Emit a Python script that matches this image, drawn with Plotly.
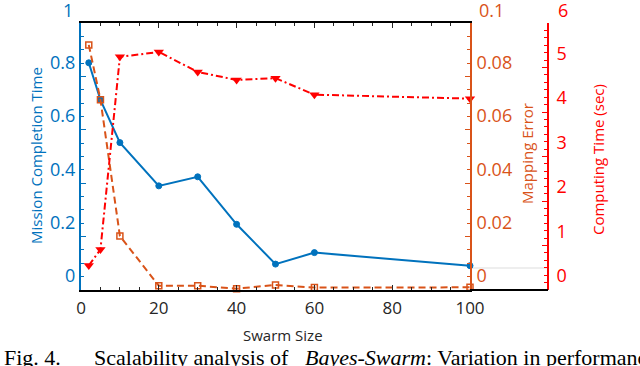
import plotly.graph_objects as go

swarm_size = [2, 5, 10, 20, 30, 40, 50, 60, 100]
mission_time = [0.851, 0.712, 0.552, 0.390, 0.424, 0.246, 0.097, 0.140, 0.091]
mapping_error = [0.0918, 0.0713, 0.0202, 0.0016, 0.0016, 0.0005, 0.0019, 0.0009, 0.0010]
computing_time = [0.55, 0.91, 5.24, 5.35, 4.90, 4.72, 4.76, 4.39, 4.30]

x_ticks = [0, 20, 40, 60, 80, 100]
y1_ticks = [0, 0.2, 0.4, 0.6, 0.8]
y1_labels = ["0", "0.2", "0.4", "0.6", "0.8"]
y1_top = "1"
y2_ticks = [0, 0.02, 0.04, 0.06, 0.08]
y2_labels = ["0", "0.02", "0.04", "0.06", "0.08"]
y2_top = "0.1"
y3_ticks = [0, 1, 2, 3, 4, 5]
y3_labels = ["0", "1", "2", "3", "4", "5"]
y3_top = "6"

BLUE = "#0072BD"
ORANGE = "#D95319"
RED = "#FF0000"
FONT = "Open Sans"

W, H = 640, 366
L, R, T, B = 81, 92, 23, 76
xend = (470 - L) / (W - L - R)
pw, ph = W - L - R, H - T - B


def px(x):
    return (x - L) / pw


def py(y):
    return (H - B - y) / ph


fig = go.Figure()
fig.add_trace(go.Scatter(
    x=swarm_size, y=mission_time, mode="lines+markers", yaxis="y", xaxis="x",
    line=dict(color=BLUE, width=2),
    marker=dict(symbol="circle", size=6, color=BLUE, line=dict(color=BLUE, width=1)),
    cliponaxis=False, showlegend=False))
fig.add_trace(go.Scatter(
    x=swarm_size, y=mapping_error, mode="lines+markers", yaxis="y2", xaxis="x",
    line=dict(color=ORANGE, width=2, dash="7px,4px"),
    marker=dict(symbol="square-open", size=6, line=dict(color=ORANGE, width=1.5)),
    cliponaxis=False, showlegend=False))
fig.add_trace(go.Scatter(
    x=swarm_size, y=computing_time, mode="lines+markers", yaxis="y3", xaxis="x",
    line=dict(color=RED, width=2, dash="7px,3px,2px,3px"),
    marker=dict(symbol="triangle-down", size=9, color=RED),
    cliponaxis=False, showlegend=False))

ann_common = dict(xref="paper", yref="paper", showarrow=False, xanchor="center", yanchor="middle")
serif = dict(size=22, color="black", family="Liberation Serif")


def caption(text, x):
    return dict(text=text, x=px(x), y=py(357), xref="paper", yref="paper", showarrow=False,
                xanchor="left", yanchor="middle", font=serif)


fig.update_layout(
    width=W, height=H,
    margin=dict(l=L, r=R, t=T, b=B, pad=0),
    paper_bgcolor="white", plot_bgcolor="white",
    font=dict(family=FONT),
    xaxis=dict(domain=[0, xend], range=[0, 100], tickvals=x_ticks,
               ticks="inside", ticklen=5, tickwidth=1.2, tickcolor="#262626",
               showline=True, linecolor="black", linewidth=2, mirror="ticks",
               showgrid=False, zeroline=False, ticklabelstandoff=2,
               minor=dict(dtick=5, ticks="inside", ticklen=3, tickcolor="#262626", showgrid=False),
               tickfont=dict(size=17, color="#262626", family=FONT)),
    yaxis=dict(range=[0, 1], tickvals=y1_ticks, ticktext=y1_labels,
               ticks="inside", ticklen=5, tickwidth=1.2, tickcolor=BLUE,
               showline=True, linecolor=BLUE, linewidth=2, mirror=False,
               showgrid=False, zeroline=False, ticklabelshift=-14, ticklabelstandoff=0,
               minor=dict(dtick=0.05, ticks="inside", ticklen=3, tickcolor=BLUE, showgrid=False),
               tickfont=dict(size=18, color=BLUE, family=FONT)),
    yaxis2=dict(range=[0, 0.1], tickvals=y2_ticks, ticktext=y2_labels,
                overlaying="y", side="right", anchor="x",
                ticks="inside", ticklen=5, tickwidth=1.2, tickcolor=ORANGE,
                showline=True, linecolor=ORANGE, linewidth=2,
                showgrid=False, zeroline=False, ticklabelshift=-14, ticklabelstandoff=1,
                minor=dict(dtick=0.005, ticks="inside", ticklen=3, tickcolor=ORANGE, showgrid=False),
                tickfont=dict(size=18, color=ORANGE, family=FONT)),
    yaxis3=dict(range=[0, 6], tickvals=y3_ticks, ticktext=y3_labels,
                overlaying="y", side="right", anchor="free", position=1.0,
                ticks="inside", ticklen=5, tickwidth=1.2, tickcolor=RED,
                showline=True, linecolor=RED, linewidth=2,
                showgrid=False, zeroline=False, ticklabelshift=-14, ticklabelstandoff=4,
                minor=dict(dtick=1/6, ticks="inside", ticklen=3, tickcolor=RED, showgrid=False),
                tickfont=dict(size=18, color=RED, family=FONT)),
    shapes=[
        dict(type="line", xref="paper", yref="paper", x0=xend, x1=1, y0=0, y1=0,
             line=dict(color="black", width=2)),
        dict(type="line", xref="paper", yref="paper", x0=xend, x1=1,
             y0=py(268), y1=py(268),
             line=dict(color="#e8e8e8", width=1.5), layer="below"),
    ],
    annotations=[
        dict(text=y1_top, x=px(75), y=py(10), xref="paper", yref="paper", showarrow=False,
             xanchor="right", yanchor="middle", font=dict(size=18, color=BLUE, family=FONT)),
        dict(text=y2_top, x=px(477), y=py(10), xref="paper", yref="paper", showarrow=False,
             xanchor="left", yanchor="middle", font=dict(size=18, color=ORANGE, family=FONT)),
        dict(text=y3_top, x=px(556), y=py(10), xref="paper", yref="paper", showarrow=False,
             xanchor="left", yanchor="middle", font=dict(size=18, color=RED, family=FONT)),
        dict(text="Mission Completion Time", x=px(36), y=py(156), textangle=-90,
             font=dict(size=15, color=BLUE, family=FONT), **ann_common),
        dict(text="Mapping Error", x=px(527), y=py(154), textangle=-90,
             font=dict(size=15, color=ORANGE, family=FONT), **ann_common),
        dict(text="Computing Time (sec)", x=px(598), y=py(160), textangle=-90,
             font=dict(size=15, color=RED, family=FONT), **ann_common),
        dict(text="Swarm Size", x=px(283), y=py(335),
             font=dict(size=15, color="#262626", family=FONT), **ann_common),
        caption("Fig. 4.", 2),
        caption("Scalability analysis of", 92),
        caption("<i>Bayes-Swarm</i>: Variation in performance", 303),
    ],
)

fig.write_html("out.html", config={"displayModeBar": False},
               post_script="document.body.style.margin='0';")
